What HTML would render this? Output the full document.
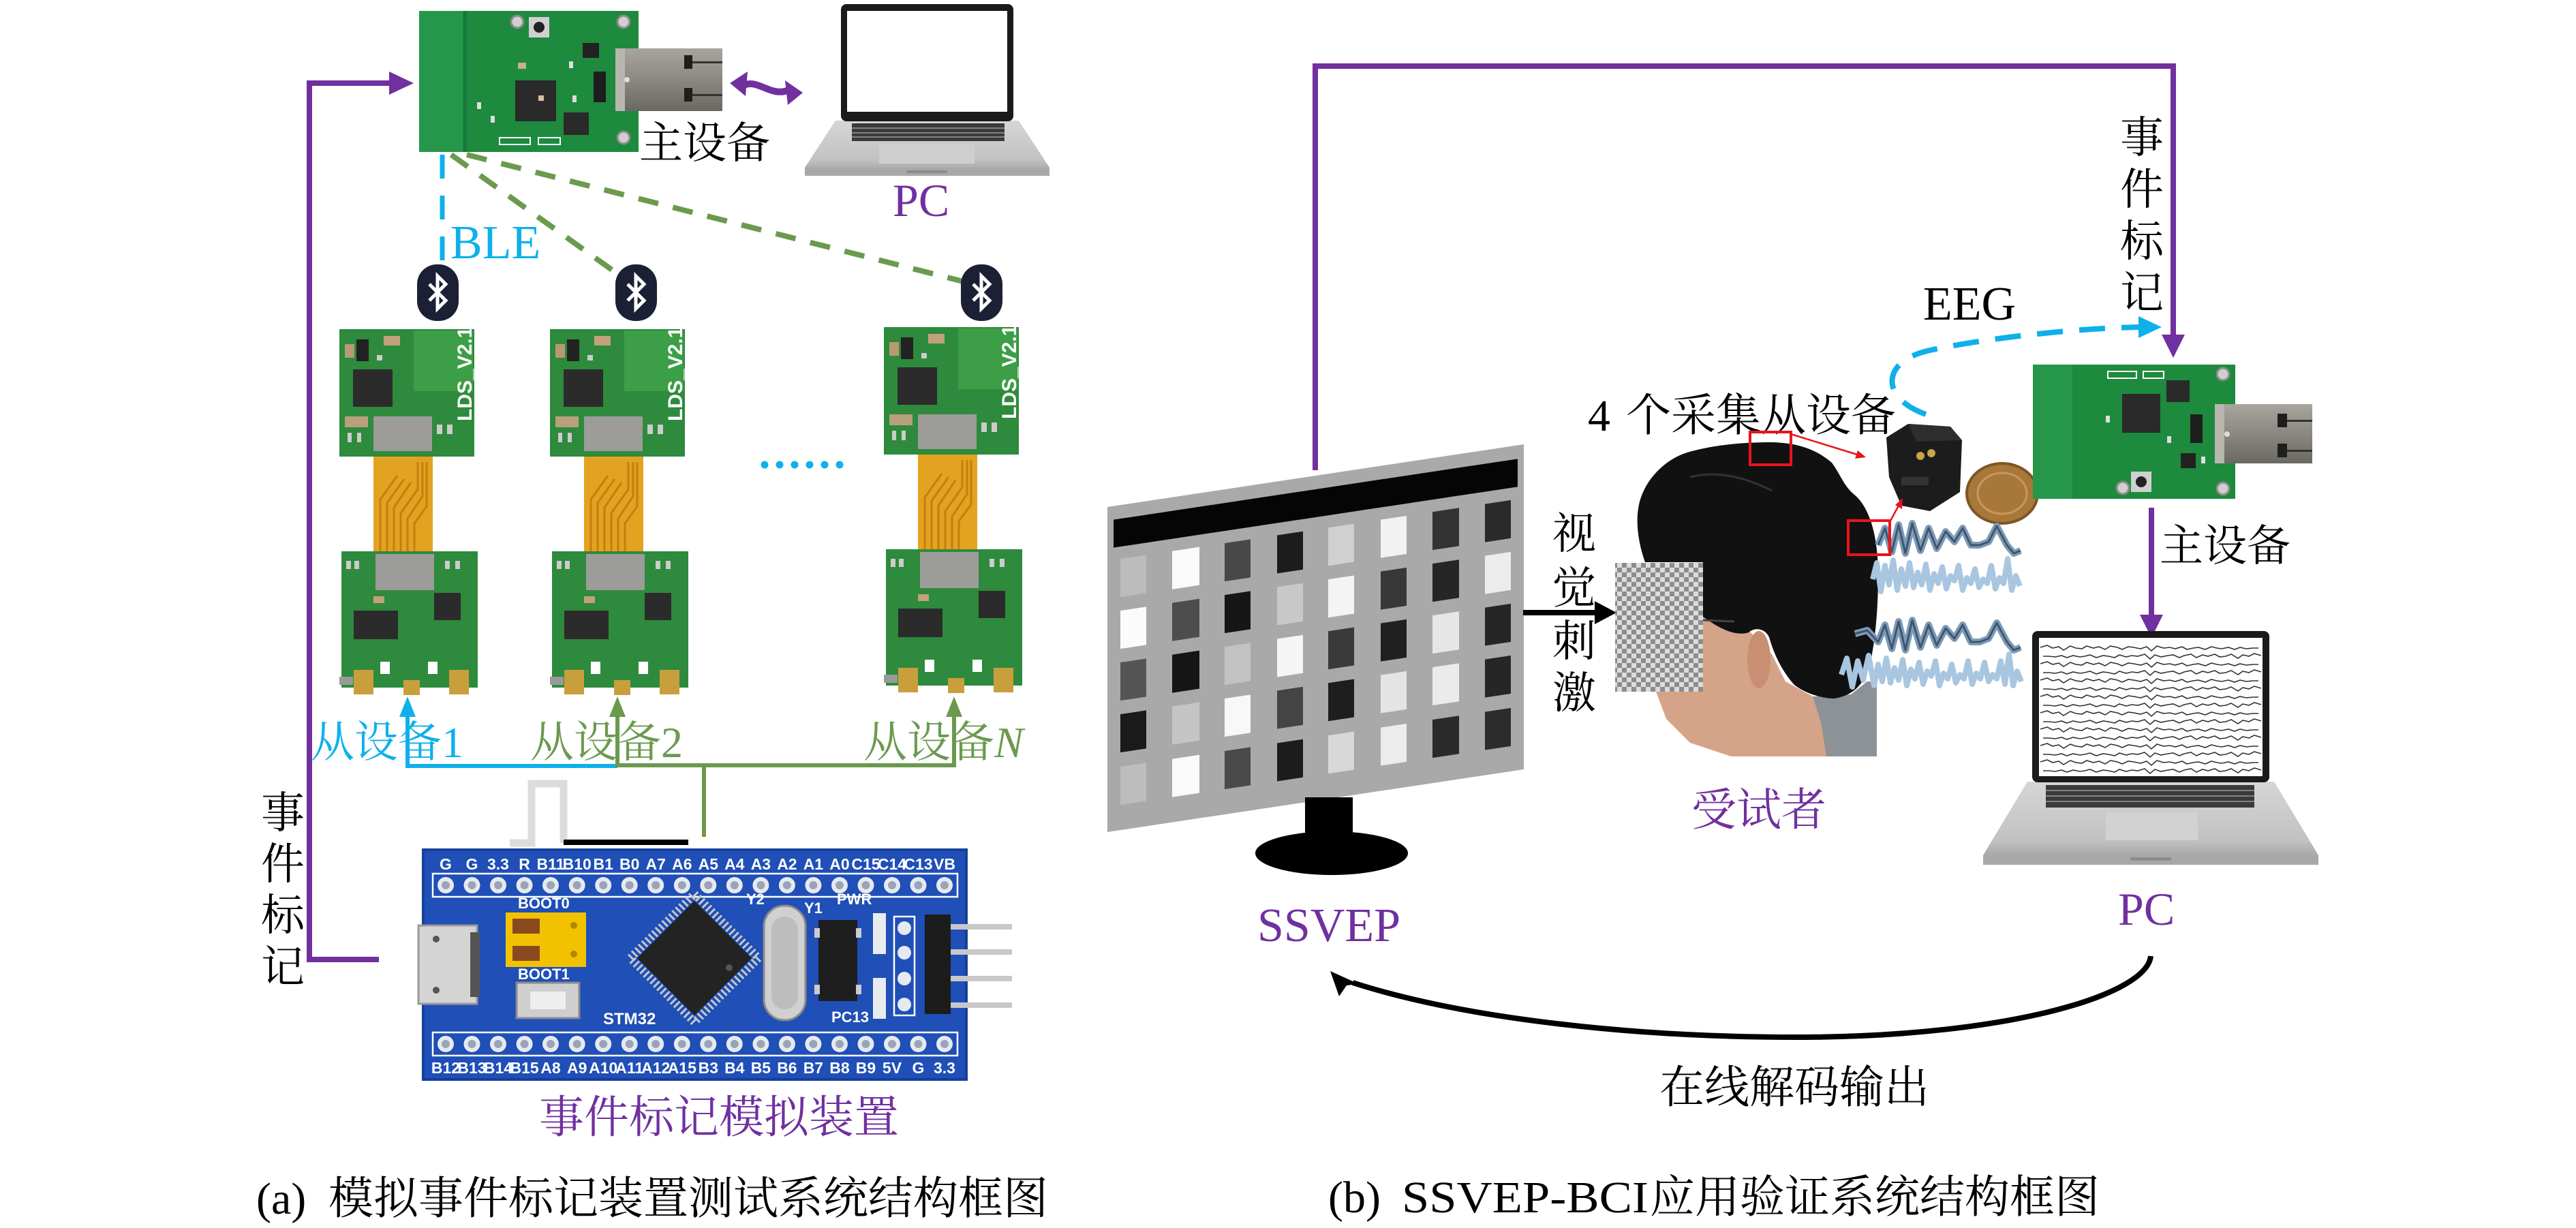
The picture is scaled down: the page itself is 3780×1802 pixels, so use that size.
<!DOCTYPE html>
<html>
<head>
<meta charset="utf-8">
<style>
html,body{margin:0;padding:0;background:#fff;}
svg{display:block;}
.t{font-family:"Liberation Serif","Noto Serif CJK SC",serif;}
.pin{font-family:"Liberation Sans Narrow","Liberation Sans",sans-serif;font-weight:bold;fill:#fff;font-size:23px;text-anchor:middle;}
.sm{font-family:"Liberation Sans Narrow","Liberation Sans",sans-serif;font-weight:bold;fill:#fff;}
</style>
</head>
<body>
<svg width="3780" height="1802" viewBox="0 0 3780 1802" xmlns="http://www.w3.org/2000/svg">
<defs>
  <linearGradient id="usbg" x1="0" y1="0" x2="0" y2="1">
    <stop offset="0" stop-color="#a7a59d"/><stop offset="0.5" stop-color="#8a8880"/><stop offset="1" stop-color="#6a6862"/>
  </linearGradient>
  <linearGradient id="silver" x1="0" y1="0" x2="0" y2="1">
    <stop offset="0" stop-color="#d6d6d6"/><stop offset="0.7" stop-color="#c2c2c2"/><stop offset="1" stop-color="#9a9a9a"/>
  </linearGradient>
  <pattern id="chk" width="14" height="14" patternUnits="userSpaceOnUse">
    <rect width="14" height="14" fill="#dcdcdc"/>
    <rect width="7" height="7" fill="#8c8c8c"/>
    <rect x="7" y="7" width="7" height="7" fill="#8c8c8c"/>
  </pattern>
  <path id="eegl" fill="none" stroke="#333" stroke-width="1.6" d="M0,0 l10,-3 l8,4 l9,-2 l7,5 l10,-6 l8,3 l9,1 l7,-4 l10,3 l8,-2 l9,4 l8,-5 l10,2 l7,3 l9,-4 l8,1 l10,2 l9,-3 l7,6 l8,-7 l10,3 l9,-1 l8,2 l10,-3 l7,4 l9,-2 l8,-1 l10,3 l9,-4 l8,2 l7,1 l10,-2 l9,3 l8,-3 l9,2 l10,-1 l8,0"/>
</defs>

<rect width="3780" height="1802" fill="#fff"/>

<!-- ================= PANEL (a) ================= -->

<!-- master PCB (top-left) -->
<g>
  <rect x="615" y="16" width="322" height="207" fill="#1d8a3e"/>
  <rect x="615" y="16" width="64" height="207" fill="#26974a"/>
  <rect x="680" y="16" width="5" height="207" fill="#16783a"/>
  <circle cx="759" cy="32" r="9" fill="#cfcfcf" stroke="#8a8a8a" stroke-width="3"/>
  <circle cx="915" cy="32" r="9" fill="#cfcfcf" stroke="#8a8a8a" stroke-width="3"/>
  <circle cx="915" cy="202" r="9" fill="#cfcfcf" stroke="#8a8a8a" stroke-width="3"/>
  <rect x="776" y="25" width="30" height="30" fill="#d0d0d0"/>
  <circle cx="791" cy="40" r="8" fill="#222"/>
  <rect x="756" y="118" width="60" height="60" fill="#2a2a2a"/>
  <rect x="827" y="165" width="37" height="33" fill="#2a2a2a"/>
  <rect x="855" y="63" width="24" height="22" fill="#222"/>
  <rect x="871" y="105" width="18" height="45" fill="#1e1e1e"/>
  <rect x="760" y="92" width="12" height="9" fill="#c8b08a"/>
  <rect x="790" y="140" width="8" height="8" fill="#d8c0a0"/>
  <rect x="733" y="202" width="45" height="10" fill="none" stroke="#fff" stroke-width="2"/>
  <rect x="790" y="202" width="32" height="10" fill="none" stroke="#fff" stroke-width="2"/>
  <rect x="700" y="150" width="6" height="10" fill="#ddd"/>
  <rect x="720" y="170" width="6" height="10" fill="#ddd"/>
  <rect x="835" y="90" width="6" height="10" fill="#ddd"/>
  <rect x="840" y="140" width="6" height="10" fill="#ddd"/>
  <!-- USB -->
  <rect x="903" y="71" width="157" height="92" fill="url(#usbg)"/>
  <rect x="903" y="71" width="14" height="92" fill="#b8b6ae"/>
  <rect x="1004" y="81" width="12" height="20" fill="#1e1e1e"/>
  <rect x="1004" y="129" width="12" height="20" fill="#1e1e1e"/>
  <rect x="1016" y="90" width="44" height="3" fill="#333"/>
  <rect x="1016" y="138" width="44" height="3" fill="#333"/>
  <circle cx="920" cy="117" r="4" fill="#ddd"/>
</g>

<!-- laptop top-left -->
<g>
  <polygon points="1226,177 1495,177 1540,246 1540,258 1181,258 1181,246" fill="url(#silver)"/>
  <rect x="1181" y="246" width="359" height="12" fill="#a8a8a8"/>
  <rect x="1234" y="6" width="253" height="172" rx="8" fill="#1a1a1a"/>
  <rect x="1243" y="16" width="235" height="148" fill="#fff"/>
  <rect x="1250" y="181" width="224" height="26" fill="#3a3a3a"/>
  <g stroke="#9a9a9a" stroke-width="1.5">
    <line x1="1250" y1="188" x2="1474" y2="188"/><line x1="1250" y1="195" x2="1474" y2="195"/><line x1="1250" y1="201" x2="1474" y2="201"/>
  </g>
  <rect x="1290" y="212" width="140" height="28" fill="#cfcfcf"/>
  <rect x="1330" y="250" width="60" height="4" fill="#8c8c8c"/>
</g>

<!-- double arrow between USB and laptop -->
<path d="M1090,126 C1110,114 1130,142 1155,133" fill="none" stroke="#7030a0" stroke-width="10"/>
<polygon points="1071,122 1097,105 1094,141" fill="#7030a0"/>
<polygon points="1178,136 1152,118 1156,154" fill="#7030a0"/>

<text class="t" x="938" y="232" font-size="64">主设备</text>
<text class="t" x="1310" y="317" font-size="68" fill="#7030a0">PC</text>

<!-- BLE dashed lines -->
<line x1="649" y1="227" x2="649" y2="388" stroke="#0fb0ea" stroke-width="7" stroke-dasharray="35 25"/>
<line x1="662" y1="227" x2="898" y2="396" stroke="#6b9a4e" stroke-width="8" stroke-dasharray="30 22"/>
<line x1="685" y1="227" x2="1413" y2="413" stroke="#6b9a4e" stroke-width="8" stroke-dasharray="30 22"/>
<text class="t" x="661" y="379" font-size="70" fill="#0fb0ea">BLE</text>

<!-- bluetooth icons -->
<g>
  <rect x="612" y="388" width="61" height="83" rx="29" fill="#1b2035"/>
  <polyline points="630,417 654,441 642,453 642,405 654,417 630,441" fill="none" stroke="#fff" stroke-width="5"/>
  <rect x="903" y="388" width="61" height="83" rx="29" fill="#1b2035"/>
  <polyline points="921,417 945,441 933,453 933,405 945,417 921,441" fill="none" stroke="#fff" stroke-width="5"/>
  <rect x="1410" y="388" width="61" height="83" rx="29" fill="#1b2035"/>
  <polyline points="1428,417 1452,441 1440,453 1440,405 1452,417 1428,441" fill="none" stroke="#fff" stroke-width="5"/>
</g>

<!-- slave boards -->
<g transform="translate(498,483)">
  <rect x="0" y="0" width="198" height="187" fill="#2e8a3c"/>
  <rect x="109" y="2" width="87" height="89" fill="#3c9e47"/>
  <rect x="8" y="22" width="14" height="20" fill="#b89a70"/>
  <rect x="25" y="15" width="18" height="32" fill="#222"/>
  <rect x="65" y="10" width="24" height="14" fill="#c2a27a"/>
  <rect x="55" y="38" width="8" height="8" fill="#ccc"/>
  <rect x="20" y="59" width="58" height="55" fill="#2b2b2b"/>
  <rect x="8" y="128" width="34" height="16" fill="#b9a07c"/>
  <rect x="12" y="152" width="6" height="14" fill="#ccc"/><rect x="26" y="152" width="6" height="14" fill="#ccc"/>
  <rect x="50" y="128" width="86" height="51" fill="#9c9c98"/>
  <rect x="143" y="140" width="8" height="14" fill="#ccc"/><rect x="158" y="140" width="8" height="14" fill="#ccc"/>
  <text class="sm" transform="translate(194,135) rotate(-90)" font-size="30">LDS_V2.1</text>
  <rect x="50" y="187" width="87" height="139" fill="#e3a21f"/>
  <g stroke="#c67e10" stroke-width="3" fill="none">
    <path d="M60,326 L60,250 L85,215"/><path d="M70,326 L70,255 L95,220"/><path d="M80,326 L80,262 L105,225"/>
    <path d="M90,326 L90,270 L115,235 L115,195"/><path d="M100,326 L100,278 L122,245 L122,195"/><path d="M110,326 L110,285 L128,260 L128,195"/>
  </g>
  <rect x="3" y="326" width="200" height="200" fill="#2e8a3c"/>
  <rect x="53" y="330" width="86" height="53" fill="#9c9c98"/>
  <rect x="21" y="413" width="65" height="42" fill="#2b2b2b"/>
  <rect x="139" y="387" width="39" height="40" fill="#2b2b2b"/>
  <rect x="10" y="340" width="7" height="12" fill="#ccc"/><rect x="22" y="340" width="7" height="12" fill="#ccc"/>
  <rect x="155" y="340" width="7" height="12" fill="#ccc"/><rect x="170" y="340" width="7" height="12" fill="#ccc"/>
  <rect x="50" y="392" width="16" height="10" fill="#c2a27a"/>
  <rect x="0" y="510" width="20" height="12" fill="#999"/>
  <rect x="21" y="500" width="29" height="36" fill="#c99f3e"/>
  <rect x="94" y="515" width="24" height="22" fill="#c99f3e"/>
  <rect x="161" y="500" width="29" height="36" fill="#c99f3e"/>
  <rect x="60" y="488" width="14" height="18" fill="#fff"/>
  <rect x="130" y="488" width="14" height="18" fill="#fff"/>
</g>
<g transform="translate(807,483)">
  <rect x="0" y="0" width="198" height="187" fill="#2e8a3c"/>
  <rect x="109" y="2" width="87" height="89" fill="#3c9e47"/>
  <rect x="8" y="22" width="14" height="20" fill="#b89a70"/>
  <rect x="25" y="15" width="18" height="32" fill="#222"/>
  <rect x="65" y="10" width="24" height="14" fill="#c2a27a"/>
  <rect x="55" y="38" width="8" height="8" fill="#ccc"/>
  <rect x="20" y="59" width="58" height="55" fill="#2b2b2b"/>
  <rect x="8" y="128" width="34" height="16" fill="#b9a07c"/>
  <rect x="12" y="152" width="6" height="14" fill="#ccc"/><rect x="26" y="152" width="6" height="14" fill="#ccc"/>
  <rect x="50" y="128" width="86" height="51" fill="#9c9c98"/>
  <rect x="143" y="140" width="8" height="14" fill="#ccc"/><rect x="158" y="140" width="8" height="14" fill="#ccc"/>
  <text class="sm" transform="translate(194,135) rotate(-90)" font-size="30">LDS_V2.1</text>
  <rect x="50" y="187" width="87" height="139" fill="#e3a21f"/>
  <g stroke="#c67e10" stroke-width="3" fill="none">
    <path d="M60,326 L60,250 L85,215"/><path d="M70,326 L70,255 L95,220"/><path d="M80,326 L80,262 L105,225"/>
    <path d="M90,326 L90,270 L115,235 L115,195"/><path d="M100,326 L100,278 L122,245 L122,195"/><path d="M110,326 L110,285 L128,260 L128,195"/>
  </g>
  <rect x="3" y="326" width="200" height="200" fill="#2e8a3c"/>
  <rect x="53" y="330" width="86" height="53" fill="#9c9c98"/>
  <rect x="21" y="413" width="65" height="42" fill="#2b2b2b"/>
  <rect x="139" y="387" width="39" height="40" fill="#2b2b2b"/>
  <rect x="10" y="340" width="7" height="12" fill="#ccc"/><rect x="22" y="340" width="7" height="12" fill="#ccc"/>
  <rect x="155" y="340" width="7" height="12" fill="#ccc"/><rect x="170" y="340" width="7" height="12" fill="#ccc"/>
  <rect x="50" y="392" width="16" height="10" fill="#c2a27a"/>
  <rect x="0" y="510" width="20" height="12" fill="#999"/>
  <rect x="21" y="500" width="29" height="36" fill="#c99f3e"/>
  <rect x="94" y="515" width="24" height="22" fill="#c99f3e"/>
  <rect x="161" y="500" width="29" height="36" fill="#c99f3e"/>
  <rect x="60" y="488" width="14" height="18" fill="#fff"/>
  <rect x="130" y="488" width="14" height="18" fill="#fff"/>
</g>
<g transform="translate(1297,480)">
  <rect x="0" y="0" width="198" height="187" fill="#2e8a3c"/>
  <rect x="109" y="2" width="87" height="89" fill="#3c9e47"/>
  <rect x="8" y="22" width="14" height="20" fill="#b89a70"/>
  <rect x="25" y="15" width="18" height="32" fill="#222"/>
  <rect x="65" y="10" width="24" height="14" fill="#c2a27a"/>
  <rect x="55" y="38" width="8" height="8" fill="#ccc"/>
  <rect x="20" y="59" width="58" height="55" fill="#2b2b2b"/>
  <rect x="8" y="128" width="34" height="16" fill="#b9a07c"/>
  <rect x="12" y="152" width="6" height="14" fill="#ccc"/><rect x="26" y="152" width="6" height="14" fill="#ccc"/>
  <rect x="50" y="128" width="86" height="51" fill="#9c9c98"/>
  <rect x="143" y="140" width="8" height="14" fill="#ccc"/><rect x="158" y="140" width="8" height="14" fill="#ccc"/>
  <text class="sm" transform="translate(194,135) rotate(-90)" font-size="30">LDS_V2.1</text>
  <rect x="50" y="187" width="87" height="139" fill="#e3a21f"/>
  <g stroke="#c67e10" stroke-width="3" fill="none">
    <path d="M60,326 L60,250 L85,215"/><path d="M70,326 L70,255 L95,220"/><path d="M80,326 L80,262 L105,225"/>
    <path d="M90,326 L90,270 L115,235 L115,195"/><path d="M100,326 L100,278 L122,245 L122,195"/><path d="M110,326 L110,285 L128,260 L128,195"/>
  </g>
  <rect x="3" y="326" width="200" height="200" fill="#2e8a3c"/>
  <rect x="53" y="330" width="86" height="53" fill="#9c9c98"/>
  <rect x="21" y="413" width="65" height="42" fill="#2b2b2b"/>
  <rect x="139" y="387" width="39" height="40" fill="#2b2b2b"/>
  <rect x="10" y="340" width="7" height="12" fill="#ccc"/><rect x="22" y="340" width="7" height="12" fill="#ccc"/>
  <rect x="155" y="340" width="7" height="12" fill="#ccc"/><rect x="170" y="340" width="7" height="12" fill="#ccc"/>
  <rect x="50" y="392" width="16" height="10" fill="#c2a27a"/>
  <rect x="0" y="510" width="20" height="12" fill="#999"/>
  <rect x="21" y="500" width="29" height="36" fill="#c99f3e"/>
  <rect x="94" y="515" width="24" height="22" fill="#c99f3e"/>
  <rect x="161" y="500" width="29" height="36" fill="#c99f3e"/>
  <rect x="60" y="488" width="14" height="18" fill="#fff"/>
  <rect x="130" y="488" width="14" height="18" fill="#fff"/>
</g>

<!-- dots -->
<g fill="#0fb0ea">
  <circle cx="1122" cy="682" r="5.5"/><circle cx="1144" cy="682" r="5.5"/><circle cx="1166" cy="682" r="5.5"/>
  <circle cx="1188" cy="682" r="5.5"/><circle cx="1210" cy="682" r="5.5"/><circle cx="1232" cy="682" r="5.5"/>
</g>

<!-- slave labels -->
<text class="t" x="456" y="1111" font-size="64" fill="#0fb0ea">从设备<tspan>1</tspan></text>
<text class="t" x="778" y="1111" font-size="64" fill="#6b9a4e">从设备<tspan>2</tspan></text>
<text class="t" x="1267" y="1111" font-size="64" fill="#6b9a4e">从设备<tspan font-style="italic">N</tspan></text>

<!-- connectors to slaves -->
<polyline points="906,1124 598,1124 598,1050" fill="none" stroke="#0fb0ea" stroke-width="6"/>
<polygon points="586,1052 598,1022 610,1052" fill="#0fb0ea"/>
<polyline points="906,1050 906,1123 1400,1123 1400,1050" fill="none" stroke="#6b9a4e" stroke-width="6"/>
<line x1="1033" y1="1123" x2="1033" y2="1228" stroke="#6b9a4e" stroke-width="6"/>
<polygon points="894,1052 906,1022 918,1052" fill="#6b9a4e"/>
<polygon points="1388,1052 1400,1022 1412,1052" fill="#6b9a4e"/>

<!-- pulse -->
<polyline points="748,1237 780,1237 780,1150 827,1150 827,1237" fill="none" stroke="#dcdcdc" stroke-width="11"/>
<line x1="827" y1="1236" x2="1010" y2="1236" stroke="#000" stroke-width="8"/>

<!-- left purple event line -->
<polyline points="556,1408 454,1408 454,122 575,122" fill="none" stroke="#7030a0" stroke-width="8"/>
<polygon points="571,105 607,122 571,139" fill="#7030a0"/>
<g class="t" font-size="64" text-anchor="middle">
  <text x="415" y="1215">事</text><text x="415" y="1290">件</text><text x="415" y="1365">标</text><text x="415" y="1441">记</text>
</g>

<!-- STM32 board -->
<g>
  <rect x="621" y="1247" width="797" height="337" fill="#1f4fb7"/>
  <rect x="621" y="1247" width="797" height="337" fill="none" stroke="#17409a" stroke-width="4"/>
  <!-- top labels -->
  <text class="pin" x="654" y="1276">G</text><text class="pin" x="692.5" y="1276">G</text><text class="pin" x="731" y="1276">3.3</text><text class="pin" x="769.6" y="1276">R</text>
  <text class="pin" x="808" y="1276">B11</text><text class="pin" x="846.7" y="1276">B10</text><text class="pin" x="885.2" y="1276">B1</text><text class="pin" x="923.7" y="1276">B0</text>
  <text class="pin" x="962.2" y="1276">A7</text><text class="pin" x="1000.8" y="1276">A6</text><text class="pin" x="1039.3" y="1276">A5</text><text class="pin" x="1077.8" y="1276">A4</text>
  <text class="pin" x="1116.4" y="1276">A3</text><text class="pin" x="1154.9" y="1276">A2</text><text class="pin" x="1193.4" y="1276">A1</text><text class="pin" x="1232" y="1276">A0</text>
  <text class="pin" x="1270.5" y="1276">C15</text><text class="pin" x="1309" y="1276">C14</text><text class="pin" x="1347.5" y="1276">C13</text><text class="pin" x="1386" y="1276">VB</text>
  <!-- bottom labels -->
  <text class="pin" x="654" y="1575">B12</text><text class="pin" x="692.5" y="1575">B13</text><text class="pin" x="731" y="1575">B14</text><text class="pin" x="769.6" y="1575">B15</text>
  <text class="pin" x="808" y="1575">A8</text><text class="pin" x="846.7" y="1575">A9</text><text class="pin" x="885.2" y="1575">A10</text><text class="pin" x="923.7" y="1575">A11</text>
  <text class="pin" x="962.2" y="1575">A12</text><text class="pin" x="1000.8" y="1575">A15</text><text class="pin" x="1039.3" y="1575">B3</text><text class="pin" x="1077.8" y="1575">B4</text>
  <text class="pin" x="1116.4" y="1575">B5</text><text class="pin" x="1154.9" y="1575">B6</text><text class="pin" x="1193.4" y="1575">B7</text><text class="pin" x="1232" y="1575">B8</text>
  <text class="pin" x="1270.5" y="1575">B9</text><text class="pin" x="1309" y="1575">5V</text><text class="pin" x="1347.5" y="1575">G</text><text class="pin" x="1386" y="1575">3.3</text>
  <!-- pin rows -->
  <g id="prow">
    <rect x="635" y="1282" width="770" height="34" fill="none" stroke="#fff" stroke-width="2.5"/>
    <g fill="#e6e9ef">
      <circle cx="654" cy="1299" r="12"/><circle cx="692.5" cy="1299" r="12"/><circle cx="731" cy="1299" r="12"/><circle cx="769.6" cy="1299" r="12"/>
      <circle cx="808" cy="1299" r="12"/><circle cx="846.7" cy="1299" r="12"/><circle cx="885.2" cy="1299" r="12"/><circle cx="923.7" cy="1299" r="12"/>
      <circle cx="962.2" cy="1299" r="12"/><circle cx="1000.8" cy="1299" r="12"/><circle cx="1039.3" cy="1299" r="12"/><circle cx="1077.8" cy="1299" r="12"/>
      <circle cx="1116.4" cy="1299" r="12"/><circle cx="1154.9" cy="1299" r="12"/><circle cx="1193.4" cy="1299" r="12"/><circle cx="1232" cy="1299" r="12"/>
      <circle cx="1270.5" cy="1299" r="12"/><circle cx="1309" cy="1299" r="12"/><circle cx="1347.5" cy="1299" r="12"/><circle cx="1386" cy="1299" r="12"/>
    </g>
    <g fill="#9aa4b8">
      <circle cx="654" cy="1299" r="6"/><circle cx="692.5" cy="1299" r="6"/><circle cx="731" cy="1299" r="6"/><circle cx="769.6" cy="1299" r="6"/>
      <circle cx="808" cy="1299" r="6"/><circle cx="846.7" cy="1299" r="6"/><circle cx="885.2" cy="1299" r="6"/><circle cx="923.7" cy="1299" r="6"/>
      <circle cx="962.2" cy="1299" r="6"/><circle cx="1000.8" cy="1299" r="6"/><circle cx="1039.3" cy="1299" r="6"/><circle cx="1077.8" cy="1299" r="6"/>
      <circle cx="1116.4" cy="1299" r="6"/><circle cx="1154.9" cy="1299" r="6"/><circle cx="1193.4" cy="1299" r="6"/><circle cx="1232" cy="1299" r="6"/>
      <circle cx="1270.5" cy="1299" r="6"/><circle cx="1309" cy="1299" r="6"/><circle cx="1347.5" cy="1299" r="6"/><circle cx="1386" cy="1299" r="6"/>
    </g>
  </g>
  <use href="#prow" transform="translate(0,233)"/>
  <!-- micro usb -->
  <rect x="614" y="1358" width="86" height="115" fill="#d4d4d4" stroke="#9a9a9a" stroke-width="3"/>
  <rect x="690" y="1368" width="14" height="95" fill="#555"/>
  <circle cx="640" cy="1378" r="5" fill="#555"/><circle cx="640" cy="1453" r="5" fill="#555"/>
  <!-- jumper -->
  <rect x="742" y="1339" width="118" height="80" fill="#f2c200"/>
  <rect x="752" y="1348" width="40" height="22" fill="#8a4a20"/>
  <rect x="752" y="1388" width="40" height="22" fill="#8a4a20"/>
  <circle cx="842" cy="1358" r="5" fill="#b08800"/><circle cx="842" cy="1400" r="5" fill="#b08800"/>
  <text class="sm" x="760" y="1333" font-size="22">BOOT0</text>
  <text class="sm" x="760" y="1437" font-size="22">BOOT1</text>
  <!-- button -->
  <rect x="758" y="1442" width="92" height="52" fill="#cfcfcf" stroke="#8a8a8a" stroke-width="3"/>
  <rect x="778" y="1455" width="52" height="26" fill="#eee"/>
  <!-- chip -->
  <polygon points="1019,1312 1113,1406 1019,1500 925,1406" fill="none" stroke="#c8c8c8" stroke-width="12" stroke-dasharray="3 4"/>
  <polygon points="1019,1322 1103,1406 1019,1490 935,1406" fill="#232323"/>
  <circle cx="1070" cy="1420" r="5" fill="#555"/>
  <text class="sm" x="885" y="1503" font-size="24">STM32</text>
  <text class="sm" x="1095" y="1327" font-size="22">Y2</text>
  <text class="sm" x="1180" y="1340" font-size="22">Y1</text>
  <text class="sm" x="1228" y="1327" font-size="22">PWR</text>
  <text class="sm" x="1220" y="1500" font-size="22">PC13</text>
  <!-- crystal -->
  <rect x="1121" y="1329" width="61" height="168" rx="30" fill="#d0d0d0" stroke="#8a8a8a" stroke-width="3"/>
  <rect x="1132" y="1345" width="39" height="136" rx="19" fill="#bdbdbd"/>
  <!-- Y1 -->
  <rect x="1201" y="1350" width="57" height="119" fill="#1e1e1e"/>
  <rect x="1195" y="1362" width="8" height="14" fill="#ccc"/><rect x="1256" y="1362" width="8" height="14" fill="#ccc"/>
  <rect x="1195" y="1445" width="8" height="14" fill="#ccc"/><rect x="1256" y="1445" width="8" height="14" fill="#ccc"/>
  <!-- leds -->
  <rect x="1281" y="1340" width="19" height="60" fill="#e8ecef"/>
  <rect x="1281" y="1435" width="19" height="60" fill="#e8ecef"/>
  <!-- side header -->
  <rect x="1312" y="1345" width="30" height="145" fill="none" stroke="#fff" stroke-width="2.5"/>
  <circle cx="1327" cy="1362" r="10" fill="#e6e9ef"/><circle cx="1327" cy="1398" r="10" fill="#e6e9ef"/>
  <circle cx="1327" cy="1436" r="10" fill="#e6e9ef"/><circle cx="1327" cy="1474" r="10" fill="#e6e9ef"/>
  <g stroke="#c8c8c8" stroke-width="8">
    <line x1="1395" y1="1360" x2="1485" y2="1360"/><line x1="1395" y1="1397" x2="1485" y2="1397"/>
    <line x1="1395" y1="1436" x2="1485" y2="1436"/><line x1="1395" y1="1475" x2="1485" y2="1475"/>
  </g>
  <rect x="1357" y="1342" width="38" height="146" fill="#1c1c1c"/>
</g>

<text class="t" x="791" y="1662" font-size="66" fill="#7030a0">事件标记模拟装置</text>

<text class="t" x="376" y="1781" font-size="66">(a)</text>
<text class="t" x="482" y="1781" font-size="66">模拟事件标记装置测试系统结构框图</text>

<!-- ================= PANEL (b) ================= -->

<!-- purple event path -->
<polyline points="1930,690 1930,97 3189,97 3189,495" fill="none" stroke="#7030a0" stroke-width="8"/>
<polygon points="3172,491 3206,491 3189,525" fill="#7030a0"/>
<g class="t" font-size="64" text-anchor="middle">
  <text x="3143" y="224">事</text><text x="3143" y="300">件</text><text x="3143" y="376">标</text><text x="3143" y="452">记</text>
</g>

<!-- monitor -->
<g transform="matrix(1,-0.1506,0,1,1625,744)">
  <rect x="0" y="0" width="611" height="477" fill="#a9a9a9"/>
  <rect x="9" y="20" width="593" height="41" fill="#050505"/>
  <!-- row1 -->
  <rect x="19" y="79" width="38" height="56" fill="#bcbcbc"/><rect x="95" y="79" width="40" height="56" fill="#fafafa"/>
  <rect x="172" y="79" width="38" height="56" fill="#484848"/><rect x="249" y="79" width="38" height="56" fill="#1c1c1c"/>
  <rect x="324" y="79" width="38" height="56" fill="#d0d0d0"/><rect x="401" y="79" width="38" height="56" fill="#f2f2f2"/>
  <rect x="477" y="79" width="39" height="56" fill="#333333"/><rect x="554" y="79" width="38" height="56" fill="#2a2a2a"/>
  <!-- row2 -->
  <rect x="19" y="155" width="38" height="56" fill="#fbfbfb"/><rect x="95" y="155" width="40" height="56" fill="#4d4d4d"/>
  <rect x="172" y="155" width="38" height="56" fill="#161616"/><rect x="249" y="155" width="38" height="56" fill="#c8c8c8"/>
  <rect x="324" y="155" width="38" height="56" fill="#f4f4f4"/><rect x="401" y="155" width="38" height="56" fill="#383838"/>
  <rect x="477" y="155" width="39" height="56" fill="#262626"/><rect x="554" y="155" width="38" height="56" fill="#ececec"/>
  <!-- row3 -->
  <rect x="19" y="231" width="38" height="56" fill="#555555"/><rect x="95" y="231" width="40" height="56" fill="#151515"/>
  <rect x="172" y="231" width="38" height="56" fill="#c2c2c2"/><rect x="249" y="231" width="38" height="56" fill="#f5f5f5"/>
  <rect x="324" y="231" width="38" height="56" fill="#3a3a3a"/><rect x="401" y="231" width="38" height="56" fill="#202020"/>
  <rect x="477" y="231" width="39" height="56" fill="#e6e6e6"/><rect x="554" y="231" width="38" height="56" fill="#262626"/>
  <!-- row4 -->
  <rect x="19" y="307" width="38" height="56" fill="#1a1a1a"/><rect x="95" y="307" width="40" height="56" fill="#c5c5c5"/>
  <rect x="172" y="307" width="38" height="56" fill="#f8f8f8"/><rect x="249" y="307" width="38" height="56" fill="#444444"/>
  <rect x="324" y="307" width="38" height="56" fill="#1e1e1e"/><rect x="401" y="307" width="38" height="56" fill="#e4e4e4"/>
  <rect x="477" y="307" width="39" height="56" fill="#ebebeb"/><rect x="554" y="307" width="38" height="56" fill="#262626"/>
  <!-- row5 -->
  <rect x="19" y="384" width="38" height="56" fill="#bdbdbd"/><rect x="95" y="384" width="40" height="56" fill="#fafafa"/>
  <rect x="172" y="384" width="38" height="56" fill="#4a4a4a"/><rect x="249" y="384" width="38" height="56" fill="#1c1c1c"/>
  <rect x="324" y="384" width="38" height="56" fill="#d8d8d8"/><rect x="401" y="384" width="38" height="56" fill="#ececec"/>
  <rect x="477" y="384" width="39" height="56" fill="#2a2a2a"/><rect x="554" y="384" width="38" height="56" fill="#2c2c2c"/>
</g>
<rect x="1915" y="1170" width="70" height="65" fill="#000"/>
<ellipse cx="1954" cy="1252" rx="112" ry="32" fill="#000"/>
<text class="t" x="1845" y="1381" font-size="70" fill="#7030a0">SSVEP</text>

<!-- visual stimulus arrow -->
<line x1="2235" y1="899" x2="2345" y2="899" stroke="#000" stroke-width="8"/>
<polygon points="2340,882 2372,899 2340,916" fill="#000"/>
<g class="t" font-size="64" text-anchor="middle">
  <text x="2310" y="805">视</text><text x="2310" y="885">觉</text><text x="2310" y="963">刺</text><text x="2310" y="1039">激</text>
</g>

<!-- head photo -->
<g>
  <polygon points="2430,1015 2499,1015 2499,905 2566,925 2600,960 2620,1000 2660,1022 2680,1060 2680,1110 2540,1110 2480,1090 2445,1055" fill="#d5a488"/>
  <polygon points="2660,1022 2716,1019 2740,1000 2754,1000 2754,1110 2680,1110 2672,1060" fill="#8d9297"/>
  <path d="M2404,746 C2410,705 2445,672 2479,663 C2520,652 2560,649 2601,649 C2630,650 2660,655 2688,679 C2700,695 2705,712 2720,725 C2745,745 2756,790 2756,845 C2756,890 2752,940 2744,975 C2735,1005 2720,1020 2692,1025 C2670,1025 2645,1015 2633,1005 C2615,985 2603,960 2596,935 C2590,922 2575,920 2566,928 C2545,935 2520,920 2499,905 L2499,825 L2414,825 C2405,800 2400,770 2404,746 Z" fill="#111"/>
  <ellipse cx="2581" cy="968" rx="17" ry="42" fill="#c98f72"/>
  <path d="M2480,700 C2520,690 2560,700 2600,720" stroke="#333" stroke-width="3" fill="none"/>
  <rect x="2370" y="826" width="129" height="189" fill="url(#chk)"/>
  <line x1="2499" y1="910" x2="2545" y2="912" stroke="#444" stroke-width="3"/>
</g>
<text class="t" x="2482" y="1211" font-size="66" fill="#7030a0">受试者</text>

<!-- label 4 slaves -->
<text class="t" x="2330" y="632" font-size="66">4</text>
<text class="t" x="2386" y="632" font-size="66">个采集从设备</text>

<!-- cube & coin -->
<polygon points="2768,642 2800,622 2862,626 2879,646 2876,722 2832,750 2790,742 2772,700" fill="#1c1c1c"/>
<polygon points="2800,622 2862,626 2879,646 2812,648" fill="#2e2e2e"/>
<rect x="2790" y="700" width="40" height="12" fill="#333"/>
<circle cx="2818" cy="669" r="6" fill="#c9a44a"/><circle cx="2834" cy="665" r="6" fill="#c9a44a"/>
<ellipse cx="2938" cy="724" rx="52" ry="44" fill="#a8783a" stroke="#7e5524" stroke-width="4"/>
<ellipse cx="2938" cy="724" rx="36" ry="30" fill="none" stroke="#c9975a" stroke-width="3"/>

<!-- EEG waves -->
<g fill="none" stroke-linejoin="round">
  <polyline stroke="#a9c6e0" stroke-width="8" points="2748,850 2754,826 2760,868 2766,830 2772,858 2778,822 2784,866 2790,835 2796,860 2802,826 2808,862 2814,840 2820,858 2826,828 2832,866 2838,842 2844,856 2850,832 2856,864 2862,845 2868,852 2874,830 2880,866 2886,848 2892,856 2898,835 2904,862 2910,850 2916,856 2922,830 2928,864 2934,848 2940,856 2946,820 2952,866 2958,845 2964,860"/>
  <polyline stroke="#a9c6e0" stroke-width="8" points="2702,990 2710,966 2718,1008 2726,970 2734,998 2742,962 2750,1006 2756,975 2762,1000 2768,966 2774,1002 2780,980 2786,998 2792,968 2798,1006 2804,982 2810,996 2816,972 2822,1004 2828,985 2834,992 2840,970 2846,1006 2852,988 2858,996 2864,975 2870,1002 2876,990 2882,996 2888,970 2894,1004 2900,988 2906,996 2912,972 2918,1000 2924,990 2930,996 2936,970 2942,1004 2948,960 2954,1006 2960,985 2966,1000"/>
  <polyline stroke="#7e9ab5" stroke-width="10" points="2756,800 2766,775 2776,810 2786,770 2796,812 2806,768 2818,808 2830,775 2842,805 2855,780 2868,795 2880,775 2892,800 2905,800 2918,795 2930,772 2945,800 2955,812 2965,808"/>
  <polyline stroke="#3e5670" stroke-width="3" points="2756,800 2766,775 2776,810 2786,770 2796,812 2806,768 2818,808 2830,775 2842,805 2855,780 2868,795 2880,775 2892,800 2905,800 2918,795 2930,772 2945,800 2955,812 2965,808"/>
  <polyline stroke="#7e9ab5" stroke-width="10" points="2722,930 2740,925 2756,942 2766,917 2776,952 2786,912 2796,954 2806,910 2818,950 2830,917 2842,947 2855,922 2868,937 2880,917 2892,942 2905,942 2918,937 2930,914 2945,942 2955,954 2965,950"/>
  <polyline stroke="#3e5670" stroke-width="3" points="2722,930 2740,925 2756,942 2766,917 2776,952 2786,912 2796,954 2806,910 2818,950 2830,917 2842,947 2855,922 2868,937 2880,917 2892,942 2905,942 2918,937 2930,914 2945,942 2955,954 2965,950"/>
</g>

<!-- red boxes & arrows -->
<rect x="2568" y="634" width="60" height="48" fill="none" stroke="#e8141b" stroke-width="4"/>
<rect x="2712" y="764" width="61" height="50" fill="none" stroke="#e8141b" stroke-width="4"/>
<line x1="2628" y1="637" x2="2725" y2="667" stroke="#e8141b" stroke-width="2.5"/>
<polygon points="2738,671 2722,673 2726,661" fill="#e8141b"/>
<line x1="2773" y1="766" x2="2786" y2="742" stroke="#e8141b" stroke-width="2.5"/>
<polygon points="2792,731 2791,747 2781,741" fill="#e8141b"/>

<!-- EEG dashed curve -->
<path d="M2826,608 C2760,585 2758,530 2832,514 C2910,497 3040,482 3138,480" fill="none" stroke="#0fb0ea" stroke-width="8" stroke-dasharray="38 24"/>
<polygon points="3138,464 3172,480 3138,496" fill="#0fb0ea"/>
<text class="t" x="2822" y="469" font-size="70">EEG</text>

<!-- right master PCB -->
<g>
  <rect x="2983" y="535" width="297" height="197" fill="#1d8a3e"/>
  <rect x="2983" y="535" width="58" height="197" fill="#26974a"/>
  <circle cx="3262" cy="549" r="9" fill="#cfcfcf" stroke="#8a8a8a" stroke-width="3"/>
  <circle cx="3262" cy="717" r="9" fill="#cfcfcf" stroke="#8a8a8a" stroke-width="3"/>
  <circle cx="3115" cy="716" r="9" fill="#cfcfcf" stroke="#8a8a8a" stroke-width="3"/>
  <rect x="3127" y="692" width="30" height="30" fill="#d0d0d0"/>
  <circle cx="3142" cy="707" r="8" fill="#222"/>
  <rect x="3114" y="578" width="56" height="57" fill="#2a2a2a"/>
  <rect x="3179" y="558" width="34" height="32" fill="#2a2a2a"/>
  <rect x="3214" y="608" width="18" height="42" fill="#1e1e1e"/>
  <rect x="3200" y="665" width="22" height="22" fill="#222"/>
  <rect x="3093" y="545" width="42" height="10" fill="none" stroke="#fff" stroke-width="2"/>
  <rect x="3145" y="545" width="30" height="10" fill="none" stroke="#fff" stroke-width="2"/>
  <rect x="3090" y="610" width="6" height="10" fill="#ddd"/>
  <rect x="3180" y="640" width="6" height="10" fill="#ddd"/>
  <rect x="3230" y="670" width="6" height="10" fill="#ddd"/>
  <rect x="3250" y="593" width="143" height="87" fill="url(#usbg)"/>
  <rect x="3250" y="593" width="14" height="87" fill="#b8b6ae"/>
  <rect x="3342" y="607" width="14" height="20" fill="#1e1e1e"/>
  <rect x="3342" y="651" width="14" height="20" fill="#1e1e1e"/>
  <rect x="3356" y="616" width="37" height="3" fill="#333"/>
  <rect x="3356" y="660" width="37" height="3" fill="#333"/>
  <circle cx="3268" cy="637" r="4" fill="#ddd"/>
</g>

<!-- master to PC arrow -->
<line x1="3157" y1="745" x2="3157" y2="905" stroke="#7030a0" stroke-width="8"/>
<polygon points="3140,902 3174,902 3157,936" fill="#7030a0"/>
<text class="t" x="3169" y="823" font-size="64">主设备</text>

<!-- right laptop -->
<g>
  <polygon points="2975,1147 3337,1147 3402,1255 3402,1269 2910,1269 2910,1255" fill="url(#silver)"/>
  <rect x="2910" y="1255" width="492" height="14" fill="#a8a8a8"/>
  <rect x="2982" y="926" width="348" height="222" rx="8" fill="#1a1a1a"/>
  <rect x="2992" y="936" width="328" height="203" fill="#fff"/>
  <use href="#eegl" transform="translate(2994,950)"/>
  <use href="#eegl" transform="translate(3318,962) scale(-1,1)"/>
  <use href="#eegl" transform="translate(2994,974)"/>
  <use href="#eegl" transform="translate(3318,986) scale(-1,1)"/>
  <use href="#eegl" transform="translate(2994,998)"/>
  <use href="#eegl" transform="translate(3318,1010) scale(-1,1)"/>
  <use href="#eegl" transform="translate(2994,1022)"/>
  <use href="#eegl" transform="translate(3318,1034) scale(-1,1)"/>
  <use href="#eegl" transform="translate(2994,1046)"/>
  <use href="#eegl" transform="translate(3318,1058) scale(-1,1)"/>
  <use href="#eegl" transform="translate(2994,1070)"/>
  <use href="#eegl" transform="translate(3318,1082) scale(-1,1)"/>
  <use href="#eegl" transform="translate(2994,1094)"/>
  <use href="#eegl" transform="translate(3318,1106) scale(-1,1)"/>
  <use href="#eegl" transform="translate(2994,1118)"/>
  <use href="#eegl" transform="translate(3318,1130) scale(-1,1)"/>
  <rect x="3002" y="1152" width="306" height="33" fill="#3a3a3a"/>
  <g stroke="#9a9a9a" stroke-width="1.5">
    <line x1="3002" y1="1160" x2="3308" y2="1160"/><line x1="3002" y1="1168" x2="3308" y2="1168"/><line x1="3002" y1="1176" x2="3308" y2="1176"/>
  </g>
  <rect x="3090" y="1193" width="135" height="40" fill="#d2d2d2"/>
  <rect x="3126" y="1258" width="60" height="5" fill="#8c8c8c"/>
</g>
<text class="t" x="3108" y="1357" font-size="68" fill="#7030a0">PC</text>

<!-- online decoding curved arrow -->
<path d="M3156,1403 C3150,1460 2950,1520 2650,1522 C2400,1523 2150,1495 1985,1442" fill="none" stroke="#000" stroke-width="8"/>
<polygon points="1952,1425 1994,1444 1976,1446 1965,1462" fill="#000"/>
<text class="t" x="2435" y="1618" font-size="66">在线解码输出</text>

<!-- caption b -->
<text class="t" x="1949" y="1779" font-size="66">(b)</text>
<text class="t" x="2057" y="1779" font-size="66" textLength="362" lengthAdjust="spacingAndGlyphs">SSVEP-BCI</text>
<text class="t" x="2421" y="1779" font-size="66">应用验证系统结构框图</text>

</svg>
</body>
</html>
